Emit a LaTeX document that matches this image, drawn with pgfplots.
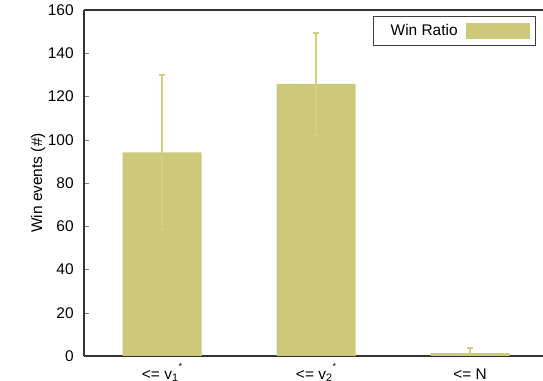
\documentclass[border=0pt]{standalone}
\usepackage{fontspec}
\setmainfont{Liberation Sans}
\usepackage{pgfplots}
\pgfplotsset{compat=1.18}
\definecolor{barc}{RGB}{205,201,122}
\definecolor{errc}{RGB}{211,207,127}
\begin{document}
\fontsize{15.5}{18}\selectfont
\begin{tikzpicture}
\useasboundingbox (0,0) rectangle (543bp,381bp);
\begin{axis}[
  at={(84bp,25bp)}, anchor=south west,
  scale only axis, width=459bp, height=346bp,
  xmin=0.4935, xmax=3.474, ymin=0, ymax=160,
  axis y line*=left, axis x line*=box,
  ytick={0,20,...,160},
  xtick={1,2,3},
  xticklabels={{<= v\textsubscript{1}\raisebox{1.2ex}{\small *}},{<= v\textsubscript{2}\raisebox{1.2ex}{\small *}},{<= N}},
  tick align=inside, major tick length=5bp,
  xtick style={draw=none},
  /pgf/number format/assume math mode=true,
  yticklabel style={font=\fontsize{15.5}{18}\selectfont, xshift=-5bp},
  xticklabel style={font=\fontsize{15.5}{18}\selectfont, anchor=base, yshift=-18bp},
  ylabel={Win events (\#)},
  every axis y label/.style={at={(axis description cs:-0.1,0.5)}, rotate=90, anchor=center, font=\fontsize{15.5}{18}\selectfont},
  axis line style={line width=1.2bp, black!80},
  ybar, bar width=79bp,
  legend style={at={(axis description cs:0.985,0.983)}, anchor=north east, draw=black!75, line width=1bp, font=\fontsize{15.5}{18}\selectfont, inner xsep=6bp, inner ysep=6bp},
  legend plot pos=right,
  legend image code/.code={\path (0bp,0bp); \fill[barc] (6bp,-8bp) rectangle (70bp,8bp);},
]
\addplot[fill=barc, draw=none,
  error bars/.cd, y dir=both, y explicit,
  error bar style={color=errc, line width=1.6bp},
  error mark options={rotate=90, mark size=3bp, line width=1.6bp, color=errc}]
  coordinates {(1,94.2) +- (0,35.8) (2,125.8) +- (0,23.7) (3,1.3) +- (0,2.5)};
\addlegendentry{\hspace{9bp}Win Ratio}
\end{axis}
\end{tikzpicture}
\end{document}
